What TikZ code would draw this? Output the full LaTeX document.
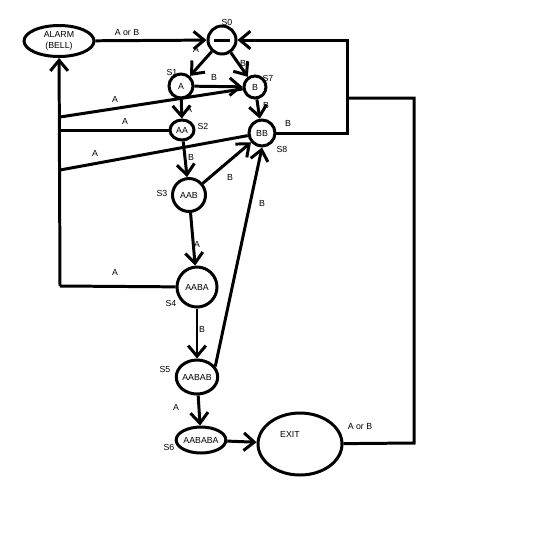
\documentclass[tikz,border=0pt]{standalone}
\usepackage{fontspec}
\setmainfont{Liberation Sans}
\usepackage{tikz}
\usetikzlibrary{shapes,arrows.meta,positioning,calc}

\begin{document}
\begin{tikzpicture}[x=0.02cm, y=-0.02cm,
    state/.style={circle, draw, line width=1.7pt, inner sep=0pt, font=\fontsize{5}{6}\selectfont},
    oval/.style={ellipse, draw, line width=1.7pt, inner sep=0pt, font=\fontsize{5}{6}\selectfont},
    lbl/.style={inner sep=0pt, font=\fontsize{5}{6}\selectfont},
    arrow/.style={-{Straight Barb[length=6pt, width=10pt]}, line width=1.7pt},
    wire/.style={line width=1.7pt}
]
\useasboundingbox (0,0) rectangle (540,532);

% Alarm and start state
\node[oval, minimum width=1.4cm, minimum height=0.62cm, align=center] (alarm) at (59,41) {ALARM\\(BELL)};
\node[state, minimum size=0.56cm] (s0) at (222,40) {};
\draw[wire] ([xshift=-0.16cm]s0.center) -- ([xshift=0.16cm]s0.center);

% States
\node[state, minimum size=0.48cm] (s1) at (181,86) {A};
\node[state, minimum size=0.44cm] (s7) at (255,87) {B};
\node[oval, minimum width=0.48cm, minimum height=0.4cm] (s2) at (182,130) {AA};
\node[state, minimum size=0.52cm] (s8) at (262,133) {BB};
\node[state, minimum size=0.66cm] (s3) at (189,195) {AAB};
\node[state, minimum size=0.8cm] (s4) at (197,287) {AABA};
\node[oval, minimum width=0.8cm, minimum height=0.68cm] (s5) at (197,377) {AABAB};
\node[oval, minimum width=0.96cm, minimum height=0.52cm] (s6) at (201,440) {AABABA};
\node[oval, minimum width=1.68cm, minimum height=1.24cm] (exit) at (300,444) {};
\node[lbl] (exittext) at (290,434) {EXIT};

% State names
\node[lbl] (ls0) at (227,22) {S0};
\node[lbl] (ls1) at (172,72) {S1};
\node[lbl] (ls7) at (268,78) {S7};
\node[lbl] (ls2) at (203,126) {S2};
\node[lbl] (ls8) at (282,149) {S8};
\node[lbl] (ls3) at (162,193) {S3};
\node[lbl] (ls4) at (171,303) {S4};
\node[lbl] (ls5) at (165,369) {S5};
\node[lbl] (ls6) at (169,447) {S6};

% Corner points
\coordinate (ne) at (347,133);
\coordinate (jn) at (347,98);
\coordinate (se) at (414,443);
\coordinate (c1) at (60,117);
\coordinate (c2) at (60,130);
\coordinate (c3) at (60,170);
\coordinate (c4) at (60,286);

% Back to start
\draw[arrow] (alarm) -- (s0);
\draw[arrow] (s8) -- (ne) |- (s0);
\draw[wire] (exit) -- (se) |- (jn);

% Into the alarm
\draw[wire] (s7) -- (c1);
\draw[wire] (s2) -- (c2);
\draw[wire] (s8) -- (c3);
\draw[wire] (s4) -- (c4);
\draw[arrow] (c4) -- (alarm);

% Transitions
\draw[arrow] (s0) -- (s1);
\draw[arrow] (s0) -- (s7);
\draw[arrow] (s1) -- (s7);
\draw[arrow] (s1) -- (s2);
\draw[arrow] (s7) -- (s8);
\draw[arrow] (s2) -- (s3);
\draw[arrow] (s3) -- (s8);
\draw[arrow] (s3) -- (s4);
\draw[arrow] (s4) -- (s5);
\draw[arrow] (s5.30) -- (s8.south);
\draw[arrow] (s5) -- (s6);
\draw[arrow] (s6) -- (exit);

% Input labels
\node[lbl] (tab) at (127,33) {A or B};
\node[lbl] (t01) at (196,49) {A};
\node[lbl] (t07) at (243,63) {B};
\node[lbl] (t17) at (214,77) {B};
\node[lbl] (t12) at (189,109) {A};
\node[lbl] (t78) at (266,105) {B};
\node[lbl] (t80) at (288,123) {B};
\node[lbl] (ta7) at (115,99) {A};
\node[lbl] (ta2) at (125,121) {A};
\node[lbl] (ta8) at (95,153) {A};
\node[lbl] (t23) at (191,157) {B};
\node[lbl] (t38) at (230,177) {B};
\node[lbl] (t34) at (197,244) {A};
\node[lbl] (t58) at (262,203) {B};
\node[lbl] (ta4) at (115,272) {A};
\node[lbl] (t45) at (202,329) {B};
\node[lbl] (t56) at (176,407) {A};
\node[lbl] (tex) at (360,427) {A or B};

\end{tikzpicture}
\end{document}
